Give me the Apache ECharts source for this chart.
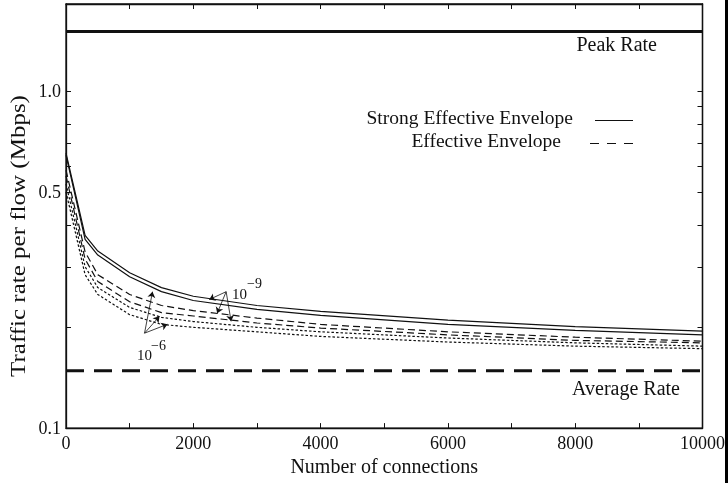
<!DOCTYPE html>
<html>
<head>
<meta charset="utf-8">
<script src="https://cdn.jsdelivr.net/npm/echarts@6/dist/echarts.min.js"></script>
<style>
  html, body { margin: 0; padding: 0; background: #fff; }
  #chart { width: 728px; height: 483px; }
</style>
</head>
<body>
<div id="chart"></div>
<script>
// Number of multiplexed connections (x axis)
const connections = [0, 300, 500, 1000, 1500, 2000, 3000, 4000, 6000, 8000, 10000];

// Traffic rate per flow (Mbps) for each bound and loss probability
const strongEnvelope9 = [0.654, 0.373, 0.335, 0.289, 0.261, 0.246, 0.231, 0.222, 0.209, 0.200, 0.194];
const strongEnvelope6 = [0.645, 0.363, 0.326, 0.281, 0.254, 0.239, 0.225, 0.216, 0.203, 0.195, 0.189];
const effectiveEnvelope9 = [0.582, 0.333, 0.285, 0.249, 0.231, 0.223, 0.212, 0.203, 0.193, 0.186, 0.181];
const effectiveEnvelope6 = [0.560, 0.317, 0.272, 0.237, 0.220, 0.215, 0.205, 0.198, 0.189, 0.182, 0.179];
const otherBound9 = [0.530, 0.301, 0.261, 0.228, 0.213, 0.207, 0.199, 0.193, 0.185, 0.179, 0.175];
const otherBound6 = [0.502, 0.285, 0.249, 0.217, 0.203, 0.199, 0.193, 0.187, 0.180, 0.175, 0.172];

// Reference rates
const peakRate = 1.5;
const averageRate = 0.148;

// Axis ranges and ticks
const xRange = [0, 10000];
const yRange = [0.1, 1.81];
const yLabelValues = [0.1, 0.5, 1.0];
const yTickValues = [0.2, 0.3, 0.4, 0.5, 0.6, 0.7, 0.8, 0.9, 1.0];

// Loss-probability annotations: [connections, rate] of arrow origin and arrow heads
const arrows9 = { from: [2516, 0.2538], to: [[2250, 0.2405], [2375, 0.2189], [2594, 0.2073]] };
const arrows6 = { from: [1234, 0.1912], to: [[1359, 0.2538], [1469, 0.2145], [1594, 0.2032]] };

const FONT = 'Liberation Serif';
const INK = '#111';

function pairs(ys) { return connections.map((x, i) => [x, ys[i]]); }

function curve(name, ys, type) {
  return {
    name, type: 'line', data: pairs(ys), symbol: 'none', smooth: false,
    lineStyle: { color: INK, width: 1.2, type },
    z: 3, silent: true
  };
}

function arrowSeries(group) {
  return {
    type: 'lines', coordinateSystem: 'cartesian2d', xAxisIndex: 0, yAxisIndex: 0,
    symbol: ['none', 'arrow'], symbolSize: 6,
    lineStyle: { color: INK, width: 0.8, opacity: 1 },
    data: group.to.map(t => ({ coords: [group.from, t] })),
    z: 4, silent: true
  };
}

const chart = echarts.init(document.getElementById('chart'), null, { renderer: 'canvas' });

const axisLine = { show: true, onZero: false, lineStyle: { color: INK, width: 1.3 } };
const xTick = { show: true, inside: true, length: 5, lineStyle: { color: INK, width: 1 } };

chart.setOption({
  animation: false,
  backgroundColor: '#fff',
  grid: {
    left: 66, right: 22, top: 4, bottom: 50, containLabel: false,
    show: true, borderColor: INK, borderWidth: 1.3, backgroundColor: 'transparent'
  },
  xAxis: [
    {
      type: 'value', min: xRange[0], max: xRange[1], interval: 2000, position: 'bottom',
      axisLine, axisTick: xTick,
      minorTick: { show: true, splitNumber: 2, length: 5, lineStyle: { color: INK, width: 1 } },
      splitLine: { show: false }, minorSplitLine: { show: false },
      axisLabel: { color: INK, fontFamily: FONT, fontSize: 18, margin: 7, formatter: v => String(v) },
      name: 'Number of connections', nameLocation: 'middle', nameGap: 27,
      nameTextStyle: { color: INK, fontFamily: FONT, fontSize: 20 }
    },
    {
      type: 'value', min: xRange[0], max: xRange[1], interval: 2000, position: 'top',
      axisLine, axisTick: xTick,
      minorTick: { show: true, splitNumber: 2, length: 5, lineStyle: { color: INK, width: 1 } },
      splitLine: { show: false }, minorSplitLine: { show: false },
      axisLabel: { show: false }
    }
  ],
  yAxis: [
    {
      type: 'log', logBase: 10, min: yRange[0], max: yRange[1], position: 'left',
      axisLine, axisTick: { show: false }, splitLine: { show: false },
      axisLabel: { show: false }
    },
    {
      type: 'log', logBase: 10, min: yRange[0], max: yRange[1], position: 'right',
      axisLine, axisTick: { show: false }, splitLine: { show: false },
      axisLabel: { show: false }
    }
  ],
  series: [
    {
      name: 'Peak Rate', type: 'line', data: [[xRange[0], peakRate], [xRange[1], peakRate]],
      symbol: 'none', lineStyle: { color: INK, width: 3 }, silent: true
    },
    {
      name: 'Average Rate', type: 'line', data: [[xRange[0], averageRate], [xRange[1], averageRate]],
      symbol: 'none', lineStyle: { color: INK, width: 3, type: [18, 10] }, silent: true
    },
    curve('Strong Effective Envelope 1e-9', strongEnvelope9, 'solid'),
    curve('Strong Effective Envelope 1e-6', strongEnvelope6, 'solid'),
    curve('Effective Envelope 1e-9', effectiveEnvelope9, [7, 4]),
    curve('Effective Envelope 1e-6', effectiveEnvelope6, [7, 4]),
    curve('Bound 1e-9', otherBound9, [2.5, 2]),
    curve('Bound 1e-6', otherBound6, [2.5, 2]),
    arrowSeries(arrows9),
    arrowSeries(arrows6)
  ]
});

// Log-axis ticks and labels placed through the axis scale
const toY = v => chart.convertToPixel({ yAxisIndex: 0 }, v);
const leftX = chart.convertToPixel({ xAxisIndex: 0 }, xRange[0]);
const rightX = chart.convertToPixel({ xAxisIndex: 0 }, xRange[1]);

const graphics = [];
yTickValues.forEach(v => {
  const y = Math.round(toY(v)) + 0.5;
  graphics.push({ type: 'line', shape: { x1: leftX, y1: y, x2: leftX + 5, y2: y }, style: { stroke: INK, lineWidth: 1 }, silent: true });
  graphics.push({ type: 'line', shape: { x1: rightX - 5, y1: y, x2: rightX, y2: y }, style: { stroke: INK, lineWidth: 1 }, silent: true });
});
yLabelValues.forEach(v => {
  graphics.push({
    type: 'text', x: leftX - 5, y: toY(v) + 1,
    style: { text: v.toFixed(1), fill: INK, font: `18px "${FONT}"`, align: 'right', verticalAlign: 'middle' },
    silent: true
  });
});

function text(str, x, y, size, align) {
  return {
    type: 'text', x, y,
    style: { text: str, fill: INK, font: `${size}px "${FONT}"`, align: align || 'left', verticalAlign: 'middle' },
    silent: true
  };
}

// Y axis title
graphics.push({
  type: 'text', x: 20, y: 236, rotation: Math.PI / 2, scaleX: 1.25,
  style: { text: 'Traffic rate per flow (Mbps)', fill: INK, font: `20px "${FONT}"`, align: 'center', verticalAlign: 'middle' },
  silent: true
});

// Reference-rate captions
graphics.push(text('Peak Rate', 657, 46, 20, 'right'));
graphics.push(text('Average Rate', 680, 390, 20, 'right'));

// Legend
graphics.push(text('Strong Effective Envelope', 573, 119, 19.5, 'right'));
graphics.push(text('Effective Envelope', 561, 142, 19.5, 'right'));
graphics.push({ type: 'line', shape: { x1: 595, y1: 120.5, x2: 633, y2: 120.5 }, style: { stroke: INK, lineWidth: 1.2 }, silent: true });
graphics.push({ type: 'line', shape: { x1: 590, y1: 143.5, x2: 633, y2: 143.5 }, style: { stroke: INK, lineWidth: 1.2, lineDash: [9, 8] }, silent: true });

// Loss-probability labels
graphics.push(text('10', 232, 295, 15));
graphics.push(text('\u22129', 247, 284, 14));
graphics.push(text('10', 137, 356, 15));
graphics.push(text('\u22126', 151, 346, 14));

// Right margin edge
graphics.push({ type: 'rect', shape: { x: 725, y: 0, width: 3, height: 483 }, style: { fill: '#000' }, silent: true });

chart.setOption({ graphic: graphics });
</script>
</body>
</html>
